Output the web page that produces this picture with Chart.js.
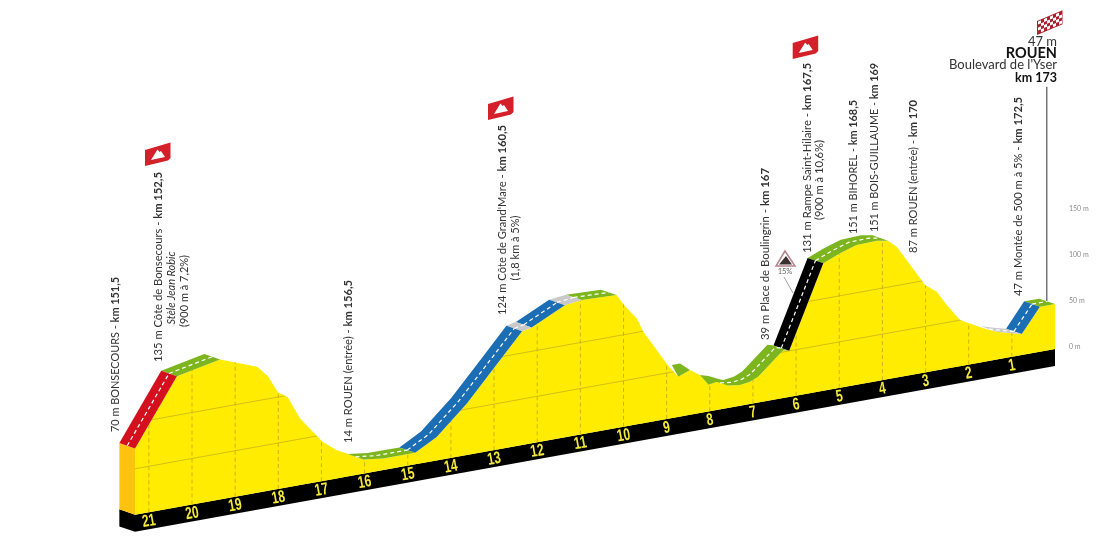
<!DOCTYPE html>
<html><head><meta charset="utf-8">
<style>html,body{margin:0;padding:0;background:#fff}canvas{display:block}</style>
<script src="https://cdn.jsdelivr.net/npm/chart.js@4"></script>
</head><body><canvas id="c" width="1100" height="538"></canvas>
<script>
// km remaining to the finish, and altitude (m) at each point of the road
const kmToGo = [21.32,20.35,19.35,18.49,18.24,18.01,17.78,17.50,17.10,16.96,16.64,16.41,16.03,15.57,14.83,14.33,13.63,12.98,12.35,12.13,11.36,10.97,10.16,9.99,9.69,9.54,9.23,8.96,8.73,8.46,8.23,8.03,7.72,7.58,7.30,7.07,6.88,6.30,6.16,5.37,4.98,4.60,4.13,3.87,3.67,3.44,3.01,2.74,2.51,2.20,1.66,1.35,1.00,0.77,0.35,0];
const altitude = [72.1,142.5,152.2,136.9,124.6,105.3,97.9,72.7,49.8,42.1,30.7,25.1,15.4,12.7,12.5,25.6,56.1,90.3,123.8,126,143.7,145.9,144.5,132.2,115.2,99.3,76.9,57.2,43.6,48.6,41.2,28.9,31.5,24.3,22.5,24.1,28,52,50.1,138.5,146.1,151.9,152.6,150.4,142.2,125.8,95,85.4,69,50.1,36.5,30.2,25.5,22.8,48.9,48.9];
// road sections: start / end index into the profile, and gradient class
const roadFrom = [0,1,12,14,18,19,20,21,33,38,39,51,53,54];
const roadTo   = [1,2,14,18,19,20,21,22,38,39,43,53,54,55];
const roadKind = ['red','green','green','blue','grey','blue','grey','green','green','black','green','grey','blue','green'];
// two short green patches on the descent: km and altitude of their corners
const patchKm  = [[8.88,8.69,8.46,8.73],[8.23,8.03,7.72,8.03]];
const patchAlt = [[57.6,57.8,48.6,43.6],[41.2,38.5,31.5,28.9]];
const kmMarks = [21,20,19,18,17,16,15,14,13,12,11,10,9,8,7,6,5,4,3,2,1];
const axisTicks = [0,50,100,150];
const gridLevels = [50,100];
const finishKm = 0.19, finishTopAlt = 283, finishBottomAlt = 50;

const pointLabels = [
 ['70 m BONSECOURS - ','km 151,5'],
 ['135 m Côte de Bonsecours - ','km 152,5'],
 ['14 m ROUEN (entrée) - ','km 156,5'],
 ["124 m Côte de Grand'Mare - ",'km 160,5'],
 ['39 m Place de Boulingrin - ','km 167'],
 ['131 m Rampe Saint-Hilaire - ','km 167,5'],
 ['151 m BIHOREL - ','km 168,5'],
 ['151 m BOIS-GUILLAUME - ','km 169'],
 ['87 m ROUEN (entrée) - ','km 170'],
 ['47 m Montée de 500 m à 5% - ','km 172,5']
];
const subLabels = [
 ['Stèle Jean Robic','italic'],
 ['(900 m à 7,2%)','normal'],
 ['(1,8 km à 5%)','normal'],
 ['(900 m à 10,6%)','normal']
];

// layout (pixels) of the annotation text: column x, bottom y, length
const pointLayout = [[115,432,155],[158,362,190],[348,443,163],[502,315,190],[765,340,172],[807,253,190],[853,234,134],[874,232,169],[913,253,153],[1018,296,199]];
const subLayout = [[171,288,73],[184,291,72],[515,248,65],[819,180,80]];
const flagLayout = [[145,150],[488,104],[792.7,43]];

const COL = {red:'#d4101f',green:'#7db51e',blue:'#1b6db4',grey:'#c9c9c9',black:'#000000'};
const TILT = 8.45, DEPTH_KM = 0.364, DEPTH_ALT = 5.87, BASE = -2.2, BAND = 18.5;
const tilted = (k,m) => m - TILT*k + BASE;
const F = 'Lato, "Open Sans", sans-serif';

const ground = kmToGo.map(k => ({x:k, y:tilted(k,0)}));
const profile = kmToGo.map((k,i) => ({x:k, y:tilted(k,altitude[i])}));

const datasets = [];
const poly = (pts,color,order) => datasets.push({type:'line',data:pts,showLine:false,pointRadius:0,polyFill:color,order,parsing:false});

// marks on the road: bands and their dashed centre lines
roadFrom.forEach((a,i) => {
  const b = roadTo[i], front = profile.slice(a,b+1);
  const back = front.map(p => ({x:p.x+DEPTH_KM, y:p.y+DEPTH_ALT})).reverse();
  poly(front.concat(back), COL[roadKind[i]], 5);
  datasets.push({type:'line',data:front.map(p => ({x:p.x+DEPTH_KM/2, y:p.y+DEPTH_ALT/2})),borderColor:'#ffffff',borderWidth:1.2,borderDash:[4,3],pointRadius:0,tension:0,fill:false,order:4,parsing:false});
});
patchKm.forEach((ks,i) => poly(ks.map((k,j) => ({x:k,y:tilted(k,patchAlt[i][j])})), COL.green, 5));

// side faces and the black base strip
const K0 = kmToGo[0], K1 = K0 + DEPTH_KM;
poly([{x:K0,y:tilted(K0,altitude[0])},{x:K1,y:tilted(K0,altitude[0])+DEPTH_ALT},{x:K1,y:tilted(K0,0)+DEPTH_ALT},{x:K0,y:tilted(K0,0)}],'#ffc20e',9);
poly([{x:K0,y:tilted(K0,0)},{x:K1,y:tilted(K0,0)+DEPTH_ALT},{x:K1,y:tilted(K0,-BAND)+DEPTH_ALT},{x:K0,y:tilted(K0,-BAND)},{x:0,y:tilted(0,-BAND)},{x:0,y:tilted(0,0)}],'#000000',9);

// km dashes and altitude grid, kept inside the yellow profile
const dashPts = [];
kmMarks.forEach(k => { dashPts.push({x:k,y:tilted(k,0)},{x:k,y:tilted(k,300)},{x:k,y:NaN}); });
datasets.push({type:'line',data:dashPts,borderColor:'#c9b417',borderWidth:1,borderDash:[4,3],pointRadius:0,order:7,insideProfile:true,parsing:false,spanGaps:false});
gridLevels.forEach(l => datasets.push({type:'line',data:[{x:K0,y:tilted(K0,l)},{x:0,y:tilted(0,l)}],borderColor:'#d3bf16',borderWidth:1,pointRadius:0,order:7,insideProfile:true,parsing:false}));

// finish post
datasets.push({type:'line',data:[{x:finishKm,y:finishTopAlt},{x:finishKm,y:finishBottomAlt}],borderColor:'#555555',borderWidth:1.2,pointRadius:0,order:6,parsing:false});

// yellow profile, filled to the tilted ground line
const profileIndex = datasets.length;
datasets.push({type:'line',label:'Altitude',data:profile,borderColor:'#ffec00',borderWidth:0,backgroundColor:'#ffec00',pointRadius:0,tension:0,fill:{target:profileIndex+1},order:8,parsing:false});
datasets.push({type:'line',label:'Sol',data:ground,borderWidth:0,pointRadius:0,fill:false,order:8,parsing:false});

function fitText(ctx,parts,len){
  let w=0; parts.forEach(p => {ctx.font=p[1]; w+=ctx.measureText(p[0]).width;});
  ctx.scale(len/w,1);
  let x=0; parts.forEach(p => {ctx.font=p[1]; ctx.fillText(p[0],x,0); x+=ctx.measureText(p[0]).width;});
}
function flag(ctx,x,y){
  ctx.save(); ctx.translate(x,y);
  ctx.fillStyle='#d3202a'; ctx.beginPath();
  ctx.moveTo(0,0);ctx.lineTo(25.5,-7.5);ctx.lineTo(25.5,8);ctx.lineTo(23,10.5);ctx.lineTo(0,16);ctx.closePath();ctx.fill();
  ctx.fillStyle='#ffffff'; ctx.beginPath();
  ctx.moveTo(6,10);ctx.lineTo(12.5,-0.5);ctx.lineTo(14.5,2);ctx.lineTo(16,1);ctx.lineTo(20,7);ctx.closePath();ctx.fill();
  ctx.restore();
}
function checker(ctx){
  ctx.save(); ctx.transform(1,-0.42,0,1,1037,21);
  ctx.fillStyle='#a8202c'; ctx.fillRect(0,0,25.5,14);
  ctx.fillStyle='#ffffff';
  for(let r=0;r<4;r++)for(let c=0;c<8;c++) if((r+c)%2===0) ctx.fillRect(1+c*3,1+r*3,3,3);
  ctx.restore();
}

const plugin = {
  id:'stage',
  beforeDatasetDraw(chart,args){
    const ds = chart.data.datasets[args.index], ctx = chart.ctx;
    const pts = chart.getDatasetMeta(args.index).data;
    if(ds.polyFill){
      ctx.save(); ctx.fillStyle=ds.polyFill; ctx.beginPath();
      pts.forEach((p,i) => i?ctx.lineTo(p.x,p.y):ctx.moveTo(p.x,p.y));
      ctx.closePath(); ctx.fill(); ctx.restore();
    }
    if(ds.insideProfile){
      const pp = chart.getDatasetMeta(profileIndex).data, g = chart.getDatasetMeta(profileIndex+1).data;
      ctx.save(); ctx.beginPath();
      pp.forEach((p,i) => i?ctx.lineTo(p.x,p.y):ctx.moveTo(p.x,p.y));
      ctx.lineTo(g[g.length-1].x,g[g.length-1].y); ctx.lineTo(g[0].x,g[0].y);
      ctx.closePath(); ctx.clip();
    }
  },
  afterDatasetDraw(chart,args){
    if(chart.data.datasets[args.index].insideProfile) chart.ctx.restore();
  },
  afterDatasetsDraw(chart){
    const ctx = chart.ctx, xs = chart.scales.x, ys = chart.scales.y;
    // km numbers on the black strip
    ctx.save(); ctx.fillStyle='#f4ea3c'; ctx.textAlign='center'; ctx.textBaseline='middle';
    kmMarks.forEach(k => {
      ctx.save();
      ctx.translate(xs.getPixelForValue(k), ys.getPixelForValue(tilted(k,-BAND/2)));
      ctx.rotate(-Math.atan(0.18)); ctx.scale(0.7,1);
      ctx.font='bold 17px "Liberation Sans", sans-serif';
      ctx.fillText(String(k),0,0.5); ctx.restore();
    });
    ctx.restore();
    // rotated annotations
    ctx.save(); ctx.fillStyle='#333333'; ctx.textBaseline='middle'; ctx.textAlign='left';
    pointLabels.forEach((p,i) => {
      const [x,y,len] = pointLayout[i];
      ctx.save(); ctx.translate(x,y); ctx.rotate(-Math.PI/2);
      fitText(ctx,[[p[0],'12px '+F],[p[1],'bold 12px '+F]],len);
      ctx.restore();
    });
    ctx.textAlign='center';
    subLabels.forEach((p,i) => {
      const [x,y,len] = subLayout[i];
      ctx.save(); ctx.translate(x,y); ctx.rotate(-Math.PI/2);
      ctx.font=(p[1]==='italic'?'italic ':'')+'12px '+F;
      ctx.scale(len/ctx.measureText(p[0]).width,1);
      ctx.fillText(p[0],0,0); ctx.restore();
    });
    // finish block
    ctx.textAlign='right'; ctx.fillStyle='#333333';
    ctx.font='13px '+F; ctx.fillText('47 m',1057,42);
    ctx.font='bold 14.5px '+F; ctx.fillStyle='#111'; ctx.fillText('ROUEN',1057,53);
    ctx.font='13px '+F; ctx.fillStyle='#333'; ctx.fillText("Boulevard de l'Yser",1057,65);
    ctx.font='bold 12.5px '+F; ctx.fillStyle='#111'; ctx.fillText('km 173',1057,78);
    ctx.restore();
    flagLayout.forEach(f => flag(ctx,f[0],f[1]));
    checker(ctx);
    // steep-gradient sign
    ctx.save();
    ctx.strokeStyle='#b5838a'; ctx.lineWidth=1.5; ctx.fillStyle='#fff'; ctx.beginPath();
    ctx.moveTo(785,251);ctx.lineTo(776,266);ctx.lineTo(795,266);ctx.closePath();ctx.fill();ctx.stroke();
    ctx.fillStyle='#3a3030'; ctx.beginPath();
    ctx.moveTo(779,264.5);ctx.lineTo(786,256);ctx.lineTo(792,264.5);ctx.closePath();ctx.fill();
    ctx.fillStyle='#666'; ctx.font='7.5px '+F; ctx.textAlign='center'; ctx.textBaseline='middle';
    ctx.fillText('15%',785,272);
    ctx.strokeStyle='#888'; ctx.lineWidth=0.8; ctx.beginPath(); ctx.moveTo(784,277); ctx.lineTo(793,293); ctx.stroke();
    ctx.restore();
  }
};

new Chart(document.getElementById('c'),{
  type:'line',
  data:{datasets},
  plugins:[plugin],
  options:{
    responsive:false,animation:false,devicePixelRatio:1,
    layout:{padding:0,autoPadding:false},
    plugins:{legend:{display:false},tooltip:{enabled:false},title:{display:false}},
    elements:{line:{tension:0}},
    scales:{
      x:{type:'linear',reverse:true,min:-0.255,max:24.45,display:false},
      y:{type:'linear',position:'right',min:-207.6,max:377.2,
        grid:{display:false,drawTicks:false},border:{display:false},
        afterFit(s){s.width=34;s.paddingTop=0;s.paddingBottom=0;},
        afterBuildTicks(s){s.ticks=axisTicks.map(v => ({value:v}));},
        ticks:{padding:3,color:'#8a8a8a',font:{size:7,family:F},autoSkip:false,callback:v => v+' m'}
      }
    }
  }
});
</script></body></html>
